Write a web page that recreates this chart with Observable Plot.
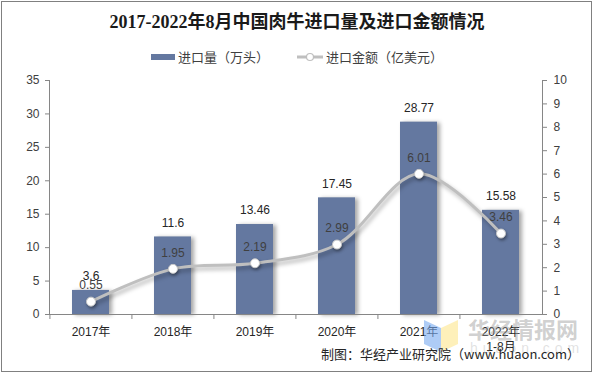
<!DOCTYPE html>
<html>
<head>
<meta charset="utf-8">
<script src="https://cdn.jsdelivr.net/npm/d3@7"></script>
<script src="https://cdn.jsdelivr.net/npm/@observablehq/plot@0.6"></script>
<style>
  html, body { margin: 0; padding: 0; background: #fff; }
  #wrap { position: relative; width: 594px; height: 373px; overflow: hidden; font-family: "Liberation Sans", "Noto Sans CJK SC", sans-serif; }
  #border { position: absolute; left: 1px; top: 1px; width: 589px; height: 369px; border: 1px solid #808080; box-sizing: content-box; pointer-events: none; }
  #title { position: absolute; left: 0; top: 10px; width: 594px; text-align: center; font-family: "Liberation Serif", "Noto Sans CJK SC", serif; font-weight: bold; font-size: 18px; color: #1a1a1a; line-height: 24px; }
  #legend { position: absolute; left: 0; top: 48px; width: 594px; display: flex; justify-content: center; align-items: center; font-family: "Noto Sans CJK SC", sans-serif; font-size: 13px; color: #404040; line-height: 18px; }
  .item { display: flex; align-items: center; margin: 0 14px; }
  .sw { margin-right: 3px; }
  #chart { position: absolute; left: 0; top: 70px; }
  #caption { position: absolute; right: 14px; top: 345px; font-family: "Noto Sans CJK SC", sans-serif; font-size: 13px; color: #262626; line-height: 18px; white-space: nowrap; }
  #wm { position: absolute; left: 468px; top: 314px; font-family: "Noto Sans CJK SC", sans-serif; font-weight: bold; font-size: 22px; color: rgba(150,150,150,0.45); letter-spacing: 0px; line-height: 28px; }
  #wm2 { position: absolute; left: 470px; top: 340px; font-family: "Liberation Sans", sans-serif; font-size: 14px; color: rgba(170,170,170,0.35); letter-spacing: 5px; line-height: 16px; }
  #logo { position: absolute; left: 424px; top: 316px; width: 36px; height: 36px; }
</style>
</head>
<body>
<div id="wrap">
  <div id="title">2017-2022年8月中国肉牛进口量及进口金额情况</div>
  <div id="legend">
    <div class="item">
      <svg class="sw" width="24" height="10"><rect x="0" y="2" width="24" height="6" fill="#6478A0"></rect></svg>
      <span>进口量（万头）</span>
    </div>
    <div class="item">
      <svg class="sw" width="26" height="12"><line x1="0" y1="6" x2="26" y2="6" stroke="#BFBFBF" stroke-width="3"></line><circle cx="13" cy="6" r="3.5" fill="#fff" stroke="#BFBFBF" stroke-width="1.2"></circle></svg>
      <span>进口金额（亿美元）</span>
    </div>
  </div>
  <div id="chart"></div>
  <svg id="logo" viewBox="0 0 36 36">
    <polygon points="0,4 17,12 17,36 0,28" fill="rgba(120,170,240,0.6)"></polygon>
    <polygon points="17,12 34,4 34,28 17,36" fill="rgba(253,230,140,0.6)"></polygon>
  </svg>
  <div id="wm">华经情报网</div>
  <div id="wm2">huaon.com</div>
  <div id="caption">制图：华经产业研究院（www.huaon.com）</div>
  <div id="border"></div>
</div>
<script>
// ---- data ----
const years = ["2017年", "2018年", "2019年", "2020年", "2021年", "2022年\n1-8月"];
const importVolume = [3.6, 11.6, 13.46, 17.45, 28.77, 15.58];   // 万头 (left axis)
const importValue = [0.55, 1.95, 2.19, 2.99, 6.01, 3.46];       // 亿美元 (right axis)
const leftTicks = [0, 5, 10, 15, 20, 25, 30, 35];
const rightTicks = [0, 1, 2, 3, 4, 5, 6, 7, 8, 9, 10];

// ---- layout ----
const W = 594, H = 282;
const mL = 49, mR = 52, mT = 10, mB = 38;
const leftMax = 35, rightMax = 10;
const k = leftMax / rightMax; // right axis value -> left scale
const step = (W - mL - mR) / years.length;

const data = years.map((year, i) => ({year, volume: importVolume[i], value: importValue[i]}));

const barColor = "#6478A0";
const lineColor = "#BFBFBF";
const axisColor = "#868686";
const fmt = d => String(d);

const chart = Plot.plot({
  width: W,
  height: H,
  marginLeft: mL,
  marginRight: mR,
  marginTop: mT,
  marginBottom: mB,
  style: {fontFamily: "'Liberation Sans', 'Noto Sans CJK SC', sans-serif", fontSize: "12px", background: "transparent", overflow: "visible"},
  x: {domain: years, paddingInner: 0.55, paddingOuter: 0.275, axis: null},
  y: {domain: [0, leftMax], axis: null},
  marks: [
    Plot.barY(data, {x: "year", y: "volume", fill: barColor, imageFilter: "drop-shadow(3px 1px 2px rgba(0,0,0,0.35))"}),
    Plot.ruleY([0], {stroke: axisColor, strokeWidth: 1}),
    Plot.frame({anchor: "left", stroke: axisColor}),
    Plot.frame({anchor: "right", stroke: axisColor}),
    Plot.ruleX(years, {x: d => d, y1: 0, y2: 0, insetBottom: -5, dx: -step / 2, stroke: axisColor}),
    Plot.axisY(leftTicks, {anchor: "left", tickSize: 4, tickPadding: 6, stroke: axisColor, fill: "#404040", tickFormat: fmt, label: null}),
    Plot.axisY(rightTicks.map(d => d * k), {anchor: "right", tickSize: 4, tickPadding: 7, stroke: axisColor, fill: "#404040", tickFormat: d => fmt(Math.round(d / k)), label: null}),
    Plot.axisX({anchor: "bottom", tickSize: 0, tickPadding: 10, fill: "#262626", lineHeight: 1.3, label: null}),
    Plot.line(data, {x: "year", y: d => d.value * k, curve: "catmull-rom", stroke: lineColor, strokeWidth: 3, imageFilter: "drop-shadow(2px 3px 2px rgba(0,0,0,0.3))"}),
    Plot.dot(data, {x: "year", y: d => d.value * k, r: 4.5, fill: "#fff", stroke: "#C8C8C8", strokeWidth: 1, imageFilter: "drop-shadow(1px 2px 1.5px rgba(0,0,0,0.35))"}),
    Plot.text(data, {x: "year", y: "volume", text: d => fmt(d.volume), dy: -14, fill: "#262626", fontSize: 12}),
    Plot.text(data, {x: "year", y: d => d.value * k, text: d => d.value.toFixed(2), dy: -16, fill: "#404040", fontSize: 12})
  ]
});
document.getElementById("chart").appendChild(chart);
</script>
</body>
</html>
